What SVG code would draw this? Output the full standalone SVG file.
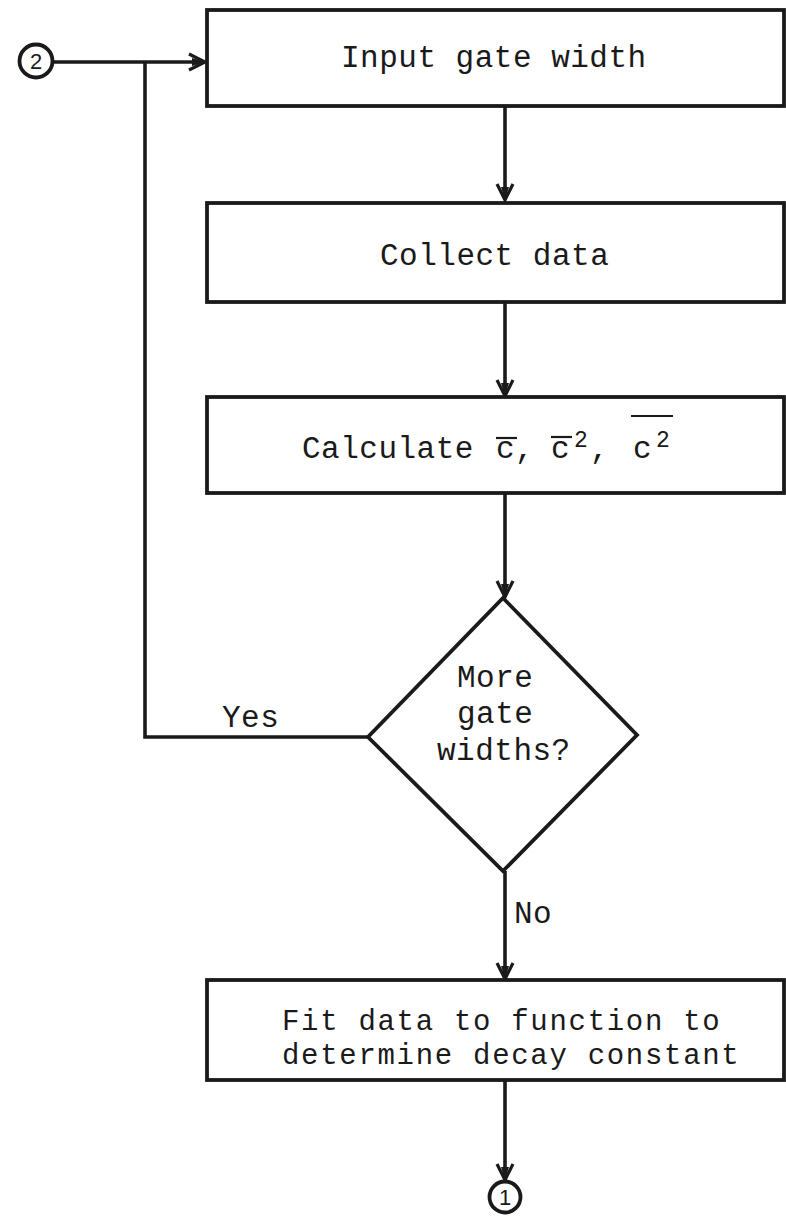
<svg xmlns="http://www.w3.org/2000/svg" width="786" height="1224" viewBox="0 0 786 1224">
  <style>
    .shape { fill: #ffffff; stroke: #1a1a1a; stroke-width: 3.8; }
    .wire { fill: none; stroke: #1a1a1a; stroke-width: 3.6; }
    .bar { stroke: #1a1a1a; stroke-width: 2.2; }
    .t { font-family: "Liberation Mono", "Courier New", monospace; font-size: 31px; letter-spacing: 0.5px; fill: #1a1a1a; }
    .t2 { font-family: "Liberation Mono", "Courier New", monospace; font-size: 29px; letter-spacing: 1.7px; fill: #1a1a1a; }
    .sup { font-family: "Liberation Mono", "Courier New", monospace; font-size: 23px; fill: #1a1a1a; }
    .num { font-family: "Liberation Sans", Arial, sans-serif; font-size: 22px; fill: #1a1a1a; text-anchor: middle; }
  </style>
  <defs>
    <marker id="arrow" viewBox="-20 -11 22 22" refX="0" refY="0" markerWidth="22" markerHeight="22" markerUnits="userSpaceOnUse" orient="auto">
      <path d="M-16,-8 L0,0 L-16,8" fill="none" stroke="#1a1a1a" stroke-width="3.2"/>
      <path d="M-13,-4 L0,0 L-13,4 Z" fill="#1a1a1a"/>
    </marker>
  </defs>
  <rect width="786" height="1224" fill="#ffffff"/>

  <g id="connectors">
    <path class="wire" d="M53,62 H205" marker-end="url(#arrow)"/>
    <path class="wire" d="M368,737 H145 V62"/>
    <path class="wire" d="M505,107 V200" marker-end="url(#arrow)"/>
    <path class="wire" d="M505,303 V396" marker-end="url(#arrow)"/>
    <path class="wire" d="M505,493 V597" marker-end="url(#arrow)"/>
    <path class="wire" d="M505,871 V979" marker-end="url(#arrow)"/>
    <path class="wire" d="M505,1080 V1180" marker-end="url(#arrow)"/>
    <text class="t" x="222" y="727">Yes</text>
    <text class="t" x="514" y="923">No</text>
  </g>

  <g id="connector-2">
    <circle class="shape" cx="36" cy="61" r="16.5"/>
    <text class="num" x="36" y="69">2</text>
  </g>

  <g id="input-gate-width">
    <rect class="shape" x="207" y="10" width="577" height="96"/>
    <text class="t" x="341" y="67">Input gate width</text>
  </g>

  <g id="collect-data">
    <rect class="shape" x="207" y="203" width="577" height="99"/>
    <text class="t" x="380" y="265">Collect data</text>
  </g>

  <g id="calculate">
    <rect class="shape" x="207" y="397" width="577" height="96"/>
    <text class="t" x="302" y="458">Calculate</text>
    <text class="t" x="496" y="458">c,</text>
    <line class="bar" x1="496" y1="438" x2="517" y2="438"/>
    <text class="t" x="551" y="458">c</text>
    <line class="bar" x1="551" y1="437" x2="572" y2="437"/>
    <text class="sup" x="574" y="447">2</text>
    <text class="t" x="590" y="458">,</text>
    <text class="t" x="633" y="458">c</text>
    <text class="sup" x="656" y="447">2</text>
    <line class="bar" x1="631" y1="416" x2="673" y2="416"/>
  </g>

  <g id="more-gate-widths">
    <polygon class="shape" points="503,598 637,735 503,871 368,737"/>
    <text class="t" x="457" y="687">More</text>
    <text class="t" x="457" y="723">gate</text>
    <text class="t" x="437" y="760">widths?</text>
  </g>

  <g id="fit-data">
    <rect class="shape" x="207" y="980" width="577" height="100"/>
    <text class="t2" x="282" y="1030">Fit data to function to</text>
    <text class="t2" x="282" y="1064">determine decay constant</text>
  </g>

  <g id="connector-1">
    <circle class="shape" cx="505" cy="1197" r="15.5"/>
    <text class="num" x="505" y="1205">1</text>
  </g>
</svg>
